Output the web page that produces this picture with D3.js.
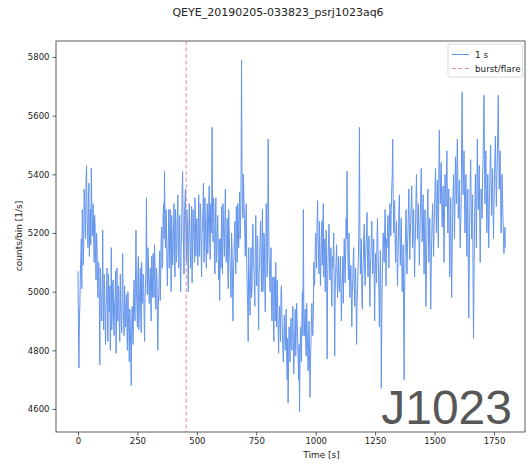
<!DOCTYPE html>
<html>
<head>
<meta charset="utf-8">
<script src="https://cdn.jsdelivr.net/npm/d3@7"></script>
<style>
  body { margin: 0; background: #fff; }
  svg { display: block; }
  text { font-family: "DejaVu Sans", sans-serif; fill: #222; }
</style>
</head>
<body>
<svg id="chart" width="529" height="464"></svg>
<script>
// Light curve of PSR J1023 (QEYE observation), counts per bin
const title = "QEYE_20190205-033823_psrj1023aq6";
const sourceName = "J1023";
const xTicks = [0, 250, 500, 750, 1000, 1250, 1500, 1750];
const yTicks = [4600, 4800, 5000, 5200, 5400, 5600, 5800];
const burstTimes = [455];
const sampleStep = 2; // seconds between plotted samples
const legendLabels = ["1 s", "burst/flare"];

// samples at t = 0, 4, 8, ... s
const countsEven = [
  5070,4740,4960,5120,5010,5230,5150,5300,5180,5430,5210,5330,5120,5280,5420,5190,5300,5100,5220,5040,5160,4980,5090,4750,5020,
  4900,5210,4870,5010,4820,4990,4880,5060,4930,4800,5150,4920,5040,4850,4980,4790,5080,4900,5000,4830,4950,4860,5130,4910,5020,
  4880,4990,4800,4920,4760,4880,4680,4950,4820,5040,4900,5210,4950,5060,4870,5000,4920,5100,4960,5050,4830,5010,5320,4990,5120,
  4960,5080,4900,5060,5130,4980,5100,4940,5050,4800,5000,5140,5060,5220,5100,5300,5410,5150,5250,5020,5180,5080,5280,5000,5200,
  5120,5300,5050,5230,5140,5330,5080,5260,5000,5200,5410,5150,5260,5350,5100,5240,5000,5300,5150,5220,5030,5280,5180,5320,5120,
  5250,5090,5330,5180,5280,5050,5230,5370,5140,5250,5080,5300,5200,5360,5110,5240,5560,5170,5290,5060,5320,5150,5260,5040,4970,
  5180,5290,5060,5230,5120,5350,5100,5250,5010,5200,5090,4980,5150,4900,5120,5240,5060,5200,5300,5150,5340,5220,5790,5300,5400,
  5250,5120,5300,5000,4830,5060,4920,5150,5010,5230,5080,4950,5260,5020,5180,4870,5100,5240,5000,5280,5060,5180,4930,5300,5050,
  5520,5120,5000,5150,4900,5050,4830,4980,5100,4880,4960,4790,4950,4830,5020,4860,4760,4920,4800,4940,4700,4620,4880,4760,4910,
  4800,4950,4720,4870,4780,4960,4840,4700,4590,4880,4760,5000,5280,4850,4940,4780,4880,4730,4900,4640,4820,4960,4850,5100,5030,
  5200,5080,5310,5150,5240,5020,5180,5090,5300,5120,5000,5210,4770,5100,5230,5040,5150,4950,5080,5200,4780,5060,5160,4980,5120,
  5000,5120,4900,5050,4960,5180,5030,5250,5410,5100,5200,4980,5090,4880,5040,5150,4950,5080,4820,5000,5120,5560,5060,5180,4940,
  5100,5230,5020,5160,5270,5050,5190,4950,5120,5240,5060,5180,4900,5130,5030,5250,5080,4880,5140,4670,5050,5200,5100,5280,5020,
  5150,5260,5080,5300,5190,5350,5520,5200,5310,5100,5240,5020,5180,5330,5090,5250,5000,5160,4700,5120,5280,5060,5200,5350,5110,
  5240,5360,5150,5280,5050,5220,5400,5180,5300,5090,5250,5420,5170,5330,5060,5280,4950,5200,5350,5100,5250,4940,5180,5300,5120,
  5280,5420,5200,5380,5150,5550,5300,5440,5220,5360,5100,5400,5290,5480,5200,5350,5050,5320,4980,5250,5400,5180,5460,5300,5520,
  5250,5380,5150,5300,5680,5330,5480,5200,5400,5120,5350,4910,5260,5450,5180,5330,4840,5220,5400,5150,5520,5280,5430,5100,5350,
  5250,5450,5670,5300,5480,5200,5400,5150,5350,5500,5260,5420,5180,5380,5530,5290,5450,5670,5350,5480,5200,5400,5250,5130,5220
];

// samples at t = 2, 6, 10, ... s
const countsOdd = [
  4880,4900,5060,5180,5280,5090,5350,5220,5380,5260,5150,5370,5240,5160,5300,5250,5180,5260,5110,5200,5050,5100,4960,5080,4940,
  5000,4940,5060,4900,4950,5080,4830,4970,5020,4910,4870,5030,4900,4960,5070,4880,4940,5020,4860,5060,4900,5010,4940,4850,4960,
  4930,4860,5000,4850,4940,4800,4900,4870,4980,4930,5060,5000,4880,5120,4960,5080,4860,4990,5060,4920,4980,5080,5050,5150,5010,
  5040,4980,5120,4980,5050,5160,4960,5080,4920,4950,5080,4970,5180,5080,5250,5180,5230,5280,5100,5120,5280,5210,5130,5260,5090,
  5220,5160,5280,5100,5260,5180,5200,5090,5150,5330,5260,5060,5310,5200,5280,5120,5180,5220,5080,5290,5150,5220,5100,5250,5200,
  5170,5220,5120,5300,5140,5200,5290,5100,5320,5160,5220,5130,5280,5180,5300,5200,5280,5320,5120,5230,5100,5200,5120,5180,5090,
  5080,5150,5300,5170,5260,5200,5170,5090,5280,5140,5040,5200,5040,5060,5180,5130,5290,5100,5230,5260,5180,5380,5420,5250,5320,
  5180,5250,5100,4950,5150,5000,5080,4980,5180,5100,5020,5150,5100,5190,4990,5060,5180,5120,5160,5000,5200,5020,5100,5180,5150,
  5250,5050,5100,4960,4980,4920,5050,4900,4970,5040,4870,4890,4900,5000,4920,4800,4850,4860,4880,4770,4840,4760,4820,4880,4830,
  4880,4830,4800,4940,4860,4900,4780,4820,4760,4810,4900,4850,4950,4900,4820,4960,4800,4830,4790,4760,4900,4870,4920,5020,5150,
  5120,5240,5180,5060,5130,5100,5240,5220,5050,5180,5130,5080,5020,5180,5120,5100,5000,5120,5130,4980,5000,5110,5050,5060,5020,
  5060,5020,5010,5120,5080,5100,5140,5180,5200,5040,5080,5040,4980,5000,5120,5020,5060,4960,4960,5080,5240,5200,5120,5000,5060,
  5180,5100,5120,5210,5100,5120,5060,5080,5180,5140,5120,5050,5060,5080,5180,5140,5000,5040,5000,4900,5130,5150,5200,5160,5180,
  5200,5180,5220,5250,5280,5400,5320,5260,5180,5200,5120,5100,5280,5200,5180,5120,5100,4950,5000,5210,5150,5140,5280,5220,5200,
  5300,5250,5220,5160,5150,5320,5280,5250,5200,5180,5340,5300,5260,5180,5200,5080,5100,5290,5220,5180,5060,5080,5250,5200,5220,
  5350,5300,5320,5260,5400,5420,5380,5320,5300,5240,5280,5350,5400,5320,5300,5180,5200,5150,5130,5340,5300,5330,5380,5420,5380,
  5320,5260,5240,5500,5450,5400,5320,5300,5240,5260,5100,5080,5380,5300,5280,5050,5050,5320,5280,5350,5380,5360,5250,5240,5300,
  5380,5560,5450,5400,5320,5300,5260,5260,5440,5380,5360,5280,5300,5460,5400,5380,5560,5500,5420,5320,5300,5330,5180,5180,5150
];

const counts = countsEven.flatMap((v, i) => [v, countsOdd[i]]);
const series = counts.map((v, i) => ({ t: i * sampleStep, v }));

const plot = { left: 56, right: 525, top: 41, bottom: 432 };

const x = d3.scaleLinear().domain([-92.5, 1880.5]).range([plot.left, plot.right]);
const y = d3.scaleLinear().domain([4521.5, 5854.5]).range([plot.bottom, plot.top]);

const svg = d3.select("#chart");

svg.append("defs").append("clipPath").attr("id", "plot-clip")
  .append("rect")
  .attr("x", plot.left).attr("y", plot.top)
  .attr("width", plot.right - plot.left).attr("height", plot.bottom - plot.top);

// Title
svg.append("text")
  .attr("x", 278).attr("y", 16)
  .attr("text-anchor", "middle")
  .style("font-size", "11px")
  .text(title);

// Light curve
svg.append("path")
  .datum(series)
  .attr("clip-path", "url(#plot-clip)")
  .attr("fill", "none")
  .attr("stroke", "#6495ED")
  .attr("stroke-width", 1)
  .attr("stroke-linejoin", "round")
  .attr("d", d3.line().x(d => x(d.t)).y(d => y(d.v)));

// Burst / flare markers
svg.selectAll("line.burst")
  .data(burstTimes)
  .join("line")
  .attr("class", "burst")
  .attr("x1", d => x(d)).attr("x2", d => x(d))
  .attr("y1", plot.top).attr("y2", plot.bottom)
  .attr("stroke", "#e0899b")
  .attr("stroke-width", 1)
  .attr("stroke-dasharray", "4,2.5");

// Source name
svg.append("text")
  .attr("x", 512).attr("y", 424)
  .attr("text-anchor", "end")
  .style("font-family", "'Liberation Sans', Arial, sans-serif")
  .style("font-size", "48px")
  .style("fill", "#575757")
  .text(sourceName);

// Axes
const xAxis = svg.append("g")
  .attr("transform", `translate(0,${plot.bottom})`)
  .call(d3.axisBottom(x).tickValues(xTicks).tickFormat(d3.format("d")).tickSize(3.5).tickPadding(2.5));
const yAxis = svg.append("g")
  .attr("transform", `translate(${plot.left},0)`)
  .call(d3.axisLeft(y).tickValues(yTicks).tickFormat(d3.format("d")).tickSize(3.5).tickPadding(3));

[xAxis, yAxis].forEach(g => {
  g.select(".domain").remove();
  g.selectAll(".tick line").attr("stroke", "#333").attr("stroke-width", 0.8);
  g.selectAll(".tick text")
    .style("font-family", "'DejaVu Sans', sans-serif")
    .style("font-size", "8.5px")
    .style("fill", "#222");
});

// Frame
svg.append("rect")
  .attr("x", plot.left).attr("y", plot.top)
  .attr("width", plot.right - plot.left).attr("height", plot.bottom - plot.top)
  .attr("fill", "none")
  .attr("stroke", "#333")
  .attr("stroke-width", 0.8);

// Axis labels
svg.append("text")
  .attr("x", (plot.left + plot.right) / 2 + 31).attr("y", 458)
  .attr("text-anchor", "middle")
  .style("font-size", "9px")
  .text("Time [s]");

svg.append("text")
  .attr("transform", `translate(22,236) rotate(-90)`)
  .attr("text-anchor", "middle")
  .style("font-size", "9px")
  .text("counts/bin [1/s]");

// Legend
const legend = svg.append("g").attr("transform", "translate(448,44)");
legend.append("rect")
  .attr("width", 74.5).attr("height", 33)
  .attr("rx", 2)
  .attr("fill", "#fff").attr("fill-opacity", 0.8)
  .attr("stroke", "#d0d0d0").attr("stroke-width", 0.8);

const legendItems = [
  { label: legendLabels[0], color: "#6495ED", dash: null },
  { label: legendLabels[1], color: "#e0899b", dash: "4,2.5" }
];
legendItems.forEach((item, i) => {
  const cy = 10.5 + i * 14;
  legend.append("line")
    .attr("x1", 4).attr("x2", 21)
    .attr("y1", cy).attr("y2", cy)
    .attr("stroke", item.color)
    .attr("stroke-width", 1)
    .attr("stroke-dasharray", item.dash);
  legend.append("text")
    .attr("x", 27).attr("y", cy + 3.2)
    .style("font-size", "8.8px")
    .text(item.label);
});
</script>
</body>
</html>
